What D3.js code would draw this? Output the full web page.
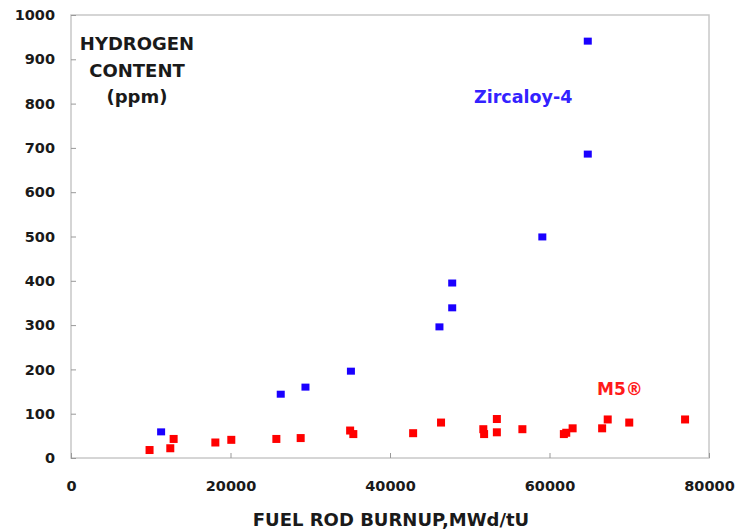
<!DOCTYPE html>
<html>
<head>
<meta charset="utf-8">
<script src="https://cdn.jsdelivr.net/npm/d3@7"></script>
<style>
  body { margin: 0; background: #fff; }
  svg text { font-family: "DejaVu Sans", sans-serif; font-weight: bold; }
</style>
</head>
<body>
<script>
// Zircaloy-4 points (burnup MWd/tU, hydrogen ppm)
const zircBurnup = [11300, 26300, 29400, 35100, 46200, 47800, 47800, 59100, 64800, 64800];
const zircH = [59, 144, 160, 196, 296, 339, 395, 499, 686, 941];

// M5 points
const m5Burnup = [9850, 12450, 12870, 18100, 20100, 25750, 28800, 35000, 35400, 42900, 46400,
  51700, 51800, 53400, 53400, 56600, 61800, 62100, 62900, 66600, 67300, 70000, 77000];
const m5H = [18, 22, 43, 35, 41, 43, 45, 62, 54, 56, 80,
  65, 54, 88, 58, 65, 54, 57, 67, 67, 87, 80, 87];

const xTicks = [0, 20000, 40000, 60000, 80000];
const yTicks = [0, 100, 200, 300, 400, 500, 600, 700, 800, 900, 1000];

const width = 745, height = 529;
const margin = { left: 71, right: 36, top: 15, bottom: 71 };

const svg = d3.select('body').append('svg')
    .attr('width', width)
    .attr('height', height);

const x = d3.scaleLinear().domain([0, 80000]).range([margin.left, width - margin.right]);
const y = d3.scaleLinear().domain([0, 1000]).range([height - margin.bottom, margin.top]);

// plot frame
svg.append('rect')
    .attr('x', margin.left)
    .attr('y', margin.top)
    .attr('width', width - margin.left - margin.right)
    .attr('height', height - margin.top - margin.bottom)
    .attr('fill', 'none')
    .attr('stroke', '#c8c8c8')
    .attr('stroke-width', 1.5);

// axes with inward ticks
const xAxis = svg.append('g')
    .attr('transform', 'translate(0,' + y(0) + ')')
    .call(d3.axisBottom(x).tickValues(xTicks).tickSize(-5).tickPadding(23).tickFormat(d => d));
const yAxis = svg.append('g')
    .attr('transform', 'translate(' + x(0) + ',0)')
    .call(d3.axisLeft(y).tickValues(yTicks).tickSize(-5).tickPadding(16).tickFormat(d => d));

[xAxis, yAxis].forEach(ax => {
    ax.select('.domain').remove();
    ax.selectAll('.tick line').attr('stroke', '#999');
    ax.selectAll('.tick text')
        .attr('fill', '#1a1a1a')
        .style('font-size', '14.5px')
        .style('font-family', '"DejaVu Sans", sans-serif')
        .style('font-weight', 'bold');
});

// markers
const sq = 8;
svg.append('g').selectAll('rect')
    .data(d3.zip(m5Burnup, m5H))
    .enter().append('rect')
    .attr('x', d => x(d[0]) - sq / 2)
    .attr('y', d => y(d[1]) - sq / 2)
    .attr('width', sq)
    .attr('height', sq)
    .attr('fill', '#ff0000');

svg.append('g').selectAll('rect')
    .data(d3.zip(zircBurnup, zircH))
    .enter().append('rect')
    .attr('x', d => x(d[0]) - sq / 2)
    .attr('y', d => y(d[1]) - sq / 2 + 0.5)
    .attr('width', sq)
    .attr('height', sq - 1)
    .attr('fill', '#1a00ff');

// y title inside plot
const yTitle = svg.append('text')
    .attr('text-anchor', 'middle')
    .attr('fill', '#1a1a1a')
    .style('font-size', '18px');
['HYDROGEN', 'CONTENT', '(ppm)'].forEach((t, i) => {
    yTitle.append('tspan').attr('x', 137).attr('y', 50 + i * 26.5).text(t);
});

// series labels
svg.append('text')
    .attr('x', 474).attr('y', 103)
    .attr('fill', '#3322ff')
    .style('font-size', '17.5px')
    .text('Zircaloy-4');

svg.append('text')
    .attr('x', 597).attr('y', 395)
    .attr('fill', '#ff1a1a')
    .style('font-size', '17px')
    .text('M5®');

// x title
svg.append('text')
    .attr('x', 391).attr('y', 526)
    .attr('text-anchor', 'middle')
    .attr('fill', '#1a1a1a')
    .style('font-size', '18px')
    .text('FUEL ROD BURNUP,MWd/tU');
</script>
</body>
</html>
